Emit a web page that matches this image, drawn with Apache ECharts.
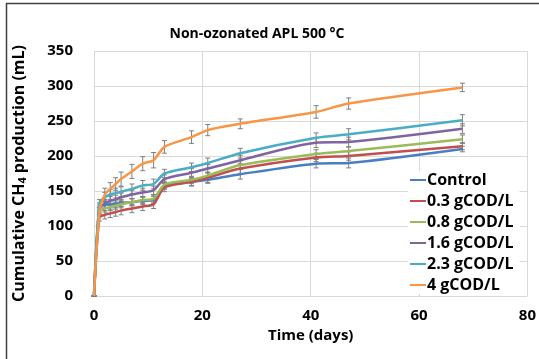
<!DOCTYPE html>
<html>
<head>
<meta charset="utf-8">
<script src="https://cdn.jsdelivr.net/npm/echarts@6/dist/echarts.min.js"></script>
<style>
  html, body { margin: 0; padding: 0; background: #fff; }
  #mChart { width: 539px; height: 359px; }
</style>
</head>
<body>
<div id="mChart"></div>
<script>
// 时间 (days)
var days = [0, 1, 2, 3, 4, 5, 7, 9, 11, 13, 18, 21, 27, 41, 47, 68];
// 累计甲烷产量 (mL)
var control = [0, 128, 130, 131, 132, 133, 134, 136, 137, 157, 163, 166, 174, 189, 190, 210];
var cod03 = [0, 112, 116, 118, 120, 122, 125, 128, 131, 155, 163, 169, 182, 198, 200, 214];
var cod08 = [0, 122, 125, 127, 129, 131, 134, 137, 139, 159, 166, 172, 187, 203, 207, 224];
var cod16 = [0, 125, 132, 136, 138, 141, 145, 148, 151, 167, 176, 182, 194, 219, 220, 239];
var cod23 = [0, 132, 141, 145, 147, 149, 153, 158, 160, 175, 184, 190, 204, 226, 231, 251];
var cod4 = [0, 120, 145, 153, 160, 167, 178, 189, 194, 213, 227, 237, 246, 263, 275, 298];
// 误差 (±)
var errControl = [0, 5, 5, 5, 5, 5, 5, 5, 5, 5, 5, 5, 7, 6, 7, 4];
var err03 = [0, 5, 6, 6, 6, 6, 6, 6, 6, 6, 6, 7, 7, 6, 6, 5];
var err08 = [0, 5, 5, 5, 5, 5, 5, 5, 5, 5, 5, 5, 6, 6, 6, 6];
var err16 = [0, 5, 6, 6, 6, 6, 6, 6, 6, 6, 6, 6, 7, 7, 7, 7];
var err23 = [0, 6, 7, 7, 7, 7, 7, 7, 7, 6, 6, 7, 7, 7, 8, 8];
var err4 = [0, 6, 9, 9, 9, 10, 10, 10, 11, 9, 9, 8, 7, 9, 8, 6];

var names = ['Control', '0.3 gCOD/L', '0.8 gCOD/L', '1.6 gCOD/L', '2.3 gCOD/L', '4 gCOD/L'];
var values = [control, cod03, cod08, cod16, cod23, cod4];
var errors = [errControl, err03, err08, err16, err23, err4];
var colors = ['#4a7ec2', '#c0504d', '#9bbb59', '#8064a2', '#4bacc6', '#f79646'];

var font = '"Open Sans", sans-serif';
var series = [];

// 误差线
values.forEach(function (vals, i) {
  series.push({
    type: 'custom',
    name: names[i] + ' err',
    z: 3,
    silent: true,
    data: days.map(function (d, k) { return [d, vals[k] - errors[i][k], vals[k] + errors[i][k]]; }),
    renderItem: function (params, api) {
      var lo = api.coord([api.value(0), api.value(1)]);
      var hi = api.coord([api.value(0), api.value(2)]);
      var w = 2.5;
      var st = { stroke: '#7f7f7f', lineWidth: 1 };
      return {
        type: 'group',
        children: [
          { type: 'line', shape: { x1: lo[0], y1: lo[1], x2: hi[0], y2: hi[1] }, style: st },
          { type: 'line', shape: { x1: lo[0] - w, y1: lo[1], x2: lo[0] + w, y2: lo[1] }, style: st },
          { type: 'line', shape: { x1: hi[0] - w, y1: hi[1], x2: hi[0] + w, y2: hi[1] }, style: st }
        ]
      };
    }
  });
});

// 曲线
values.forEach(function (vals, i) {
  series.push({
    type: 'line',
    name: names[i],
    z: 4,
    smooth: 0.25,
    showSymbol: false,
    symbol: 'none',
    lineStyle: { color: colors[i], width: 2.5 },
    itemStyle: { color: colors[i] },
    data: days.map(function (d, k) { return [d, vals[k]]; })
  });
});

var myChart = echarts.init(document.getElementById('mChart'));
myChart.setOption({
  animation: false,
  title: {
    text: 'Non-ozonated APL 500 °C',
    left: 252,
    textAlign: 'center',
    top: 22,
    textStyle: { fontFamily: font, fontWeight: 'bold', fontSize: 14, color: '#000' }
  },
  graphic: [{
    type: 'rect',
    shape: { x: 6.5, y: 3.5, width: 560, height: 400 },
    style: { fill: 'none', stroke: '#404040', lineWidth: 1.5 }
  }],
  grid: { left: 94, right: 11, top: 51, bottom: 63 },
  legend: {
    data: names,
    orient: 'vertical',
    left: 408,
    top: 171,
    padding: [0, 6, 0, 2],
    backgroundColor: '#fff',
    icon: 'rect',
    itemWidth: 16,
    itemHeight: 2,
    itemGap: 3,
    textStyle: { fontFamily: font, fontWeight: 'bold', fontSize: 16, color: '#000', lineHeight: 18, padding: [0, 0, 0, -4] }
  },
  xAxis: {
    type: 'value',
    min: 0,
    max: 80,
    interval: 20,
    name: 'Time (days)',
    nameLocation: 'middle',
    nameGap: 30,
    nameTextStyle: { fontFamily: font, fontWeight: 'bold', fontSize: 15, color: '#000' },
    axisLine: { show: false },
    axisTick: { show: false },
    axisLabel: { fontFamily: font, fontWeight: 'bold', fontSize: 15, color: '#000', margin: 12 },
    splitLine: { show: true, lineStyle: { color: '#d9d9d9', width: 1 } }
  },
  yAxis: {
    type: 'value',
    min: 0,
    max: 350,
    interval: 50,
    name: '{a|Cumulative CH}{s|4}{a| production (mL)}',
    nameLocation: 'middle',
    nameGap: 66,
    nameTextStyle: {
      rich: {
        a: { fontFamily: font, fontWeight: 'bold', fontSize: 16, color: '#000' },
        s: { fontFamily: font, fontWeight: 'bold', fontSize: 11, color: '#000', verticalAlign: 'bottom', padding: [6, 0, 0, 0] }
      }
    },
    axisLine: { show: false },
    axisTick: { show: false },
    axisLabel: { fontFamily: font, fontWeight: 'bold', fontSize: 15, color: '#000', margin: 21 },
    splitLine: { show: true, lineStyle: { color: '#d9d9d9', width: 1 } }
  },
  series: series
});
</script>
</body>
</html>
